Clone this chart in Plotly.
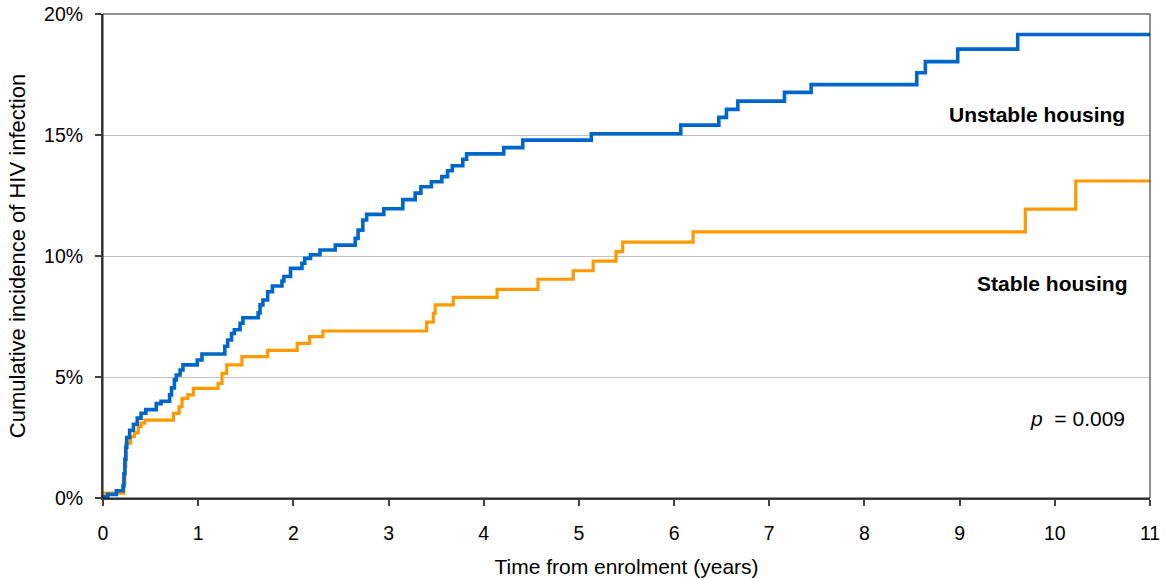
import plotly.graph_objects as go

# Unstable housing (blue) step curve: time (years) of jumps and cumulative incidence (%)
unstable_t = [0.00, 0.05, 0.14, 0.21, 0.22, 0.23, 0.24, 0.25, 0.28, 0.32, 0.36, 0.40, 0.45,
              0.56, 0.61, 0.70, 0.72, 0.75, 0.77, 0.81, 0.84, 0.99, 1.04, 1.28, 1.31, 1.35,
              1.38, 1.44, 1.47, 1.63, 1.65, 1.68, 1.73, 1.78, 1.88, 1.90, 1.97, 2.09, 2.12,
              2.18, 2.28, 2.44, 2.65, 2.68, 2.73, 2.77, 2.95, 3.15, 3.28, 3.34, 3.45, 3.56,
              3.62, 3.67, 3.78, 3.82, 4.21, 4.41, 5.13, 6.07, 6.47, 6.55, 6.67, 7.16, 7.44,
              8.55, 8.64, 8.98, 9.61, 11.0]
unstable_v = [0.05, 0.15, 0.30, 0.50, 1.0, 1.6, 2.1, 2.5, 2.8, 3.05, 3.3, 3.5, 3.65,
              3.9, 4.0, 4.26, 4.55, 4.88, 5.08, 5.29, 5.5, 5.7, 5.95, 6.27, 6.53, 6.8,
              6.95, 7.22, 7.45, 7.65, 7.98, 8.18, 8.52, 8.76, 8.97, 9.15, 9.49, 9.7, 9.9,
              10.05, 10.25, 10.45, 10.73, 11.07, 11.49, 11.72, 11.95, 12.33, 12.6, 12.86, 13.07, 13.28,
              13.52, 13.73, 14.0, 14.22, 14.48, 14.79, 15.05, 15.41, 15.73, 16.06, 16.4, 16.76, 17.08,
              17.57, 18.03, 18.55, 19.15, 19.15]

# Stable housing (orange) step curve
stable_t = [0.00, 0.22, 0.23, 0.24, 0.29, 0.33, 0.37, 0.40, 0.44, 0.74, 0.80, 0.83, 0.89,
            0.95, 1.21, 1.25, 1.30, 1.46, 1.73, 2.04, 2.17, 2.31, 3.40, 3.47, 3.49, 3.68,
            4.14, 4.57, 4.94, 5.15, 5.39, 5.46, 6.20, 9.69, 10.22, 11.0]
stable_v = [0.2, 0.6, 1.3, 2.27, 2.53, 2.69, 2.95, 3.09, 3.22, 3.5, 3.77, 4.12, 4.26,
            4.53, 4.74, 5.15, 5.5, 5.84, 6.1, 6.39, 6.67, 6.9, 7.27, 7.63, 7.98, 8.29,
            8.62, 9.04, 9.39, 9.79, 10.18, 10.57, 11.0, 11.94, 13.1, 13.1]

x_ticks = list(range(0, 12))
y_ticks = [0, 5, 10, 15, 20]
y_tick_labels = ["0%", "5%", "10%", "15%", "20%"]

FONT = "Liberation Sans, Arial, sans-serif"

fig = go.Figure()
fig.add_trace(go.Scatter(x=stable_t, y=stable_v, mode="lines", line_shape="hv",
                         line=dict(color="#FF9900", width=3.2), name="Stable housing",
                         showlegend=False))
fig.add_trace(go.Scatter(x=unstable_t, y=unstable_v, mode="lines", line_shape="hv",
                         line=dict(color="#0066CC", width=3.6), name="Unstable housing",
                         showlegend=False))

fig.update_layout(
    width=1167, height=579,
    margin=dict(l=103, r=17, t=14, b=81),
    paper_bgcolor="white", plot_bgcolor="white",
    font=dict(family=FONT, size=19, color="#000000"),
    xaxis=dict(range=[0, 11], tickvals=x_ticks, ticks="outside", ticklen=6, tickwidth=1.5,
               tickcolor="#404040", showline=True, linecolor="#404040", linewidth=2,
               showgrid=False, zeroline=False, automargin=False, ticklabelstandoff=11,
               tickfont=dict(size=19.5, family=FONT, color="#000"),
               title=dict(text="Time from enrolment (years)", font=dict(size=21, family=FONT),
                          standoff=16)),
    yaxis=dict(range=[0, 20], tickvals=y_ticks, ticktext=y_tick_labels, ticks="outside",
               ticklen=6, tickwidth=1.5, tickcolor="#404040", showline=True,
               linecolor="#404040", linewidth=2, showgrid=True, gridcolor="#C0C0C0",
               gridwidth=1.2, zeroline=False, automargin=False, ticklabelstandoff=8,
               tickfont=dict(size=19.5, family=FONT, color="#000"),
               title=dict(text="Cumulative incidence of HIV infection",
                          font=dict(size=22, family=FONT), standoff=12)),
)

# plot border (top/right thin)
fig.add_shape(type="rect", xref="paper", yref="paper", x0=0, y0=0, x1=1, y1=1,
              line=dict(color="#202020", width=1), layer="above")

fig.add_annotation(x=10.76, y=15.85, xref="x", yref="y", text="<b>Unstable housing</b>",
                   showarrow=False, xanchor="right", yanchor="middle",
                   font=dict(size=21, family=FONT, color="#000"))
fig.add_annotation(x=10.79, y=8.88, xref="x", yref="y", text="<b>Stable housing</b>",
                   showarrow=False, xanchor="right", yanchor="middle",
                   font=dict(size=21, family=FONT, color="#000"))
fig.add_annotation(x=10.76, y=3.3, xref="x", yref="y", text="<i>p</i>  = 0.009",
                   showarrow=False, xanchor="right", yanchor="middle",
                   font=dict(size=21, family=FONT, color="#000"))

fig.write_html("out.html")
